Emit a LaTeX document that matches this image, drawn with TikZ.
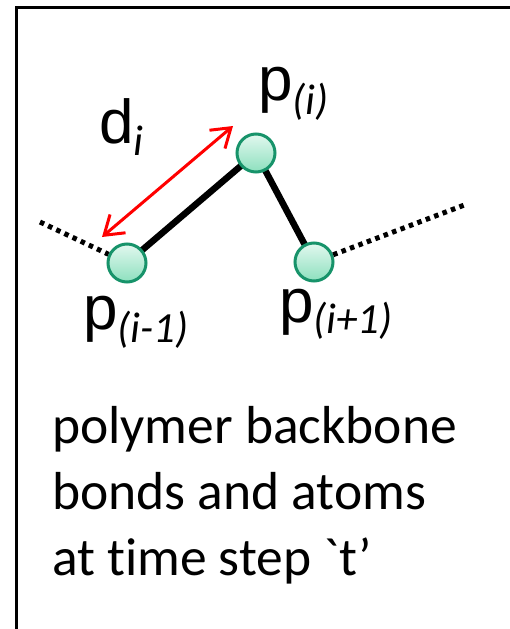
\documentclass[tikz,border=0pt]{standalone}
\usepackage{fontspec}
\newfontfamily\arialf{Liberation Sans}
\newfontfamily\calf[Ligatures=NoCommon]{Carlito}
\usetikzlibrary{arrows.meta}
\definecolor{atomedge}{HTML}{17936A}
\definecolor{atomtop}{HTML}{E2F8EF}
\definecolor{atombot}{HTML}{8DE0BE}
\tikzset{
  atom/.style={circle, draw=atomedge, line width=3pt, minimum size=38pt, inner sep=0pt,
    top color=atomtop, bottom color=atombot},
  bond/.style={line width=6.5pt, black},
  dotbond/.style={line width=5pt, black, dash pattern=on 4.5pt off 4.5pt},
  dist/.style={line width=3pt, red, {Straight Barb[length=18pt,width=24pt]}-{Straight Barb[length=18pt,width=24pt]}},
  lbl/.style={inner sep=0pt, anchor=base west, font=\arialf\fontsize{62}{70}\selectfont},
  body/.style={inner sep=0pt, anchor=base west, font=\calf\fontsize{53.5}{66}\selectfont}
}
\newcommand{\subl}[2]{\raisebox{-#1pt}{\calf\itshape\fontsize{43}{48}\selectfont #2}}
\begin{document}
\begin{tikzpicture}[x=1pt,y=-1pt]
\useasboundingbox (0,0) rectangle (510,629);
\draw[line width=3pt] (16,640) -- (16,7) -- (520,7);
% atom positions
\coordinate (c1) at (127,263);
\coordinate (c2) at (256,153);
\coordinate (c3) at (314,262);
\coordinate (dl) at (40,222);
\coordinate (dr) at (467,204);
\draw[bond] (c1) -- (c2);
\draw[bond] (c2) -- (c3);
\node[atom] (a1) at (c1) {};
\node[atom] (a2) at (c2) {};
\node[atom] (a3) at (c3) {};
\draw[dotbond] (dl) -- (a1);
\draw[dotbond] (a3) -- (dr);
% distance arrow
\coordinate (ra) at (102,237);
\coordinate (rb) at (233,126);
\draw[dist] (ra) -- (rb);
% labels
\node[lbl] (lpi) at (258,100) {p\subl{14}{(i)}};
\node[lbl] (lpim) at (83,329) {p\subl{13}{(i-1)}};
\node[lbl] (lpip) at (279,322) {p\subl{11}{(i+1)}};
\node[lbl] (ld) at (99,143) {d\subl{12}{i}};
% caption
\node[body] (t1) at (52,443) {polymer backbone};
\node[body] (t2) at (52,509) {bonds and atoms};
\node[body] (t3) at (52,575) {at time step `t’};
\end{tikzpicture}
\end{document}
